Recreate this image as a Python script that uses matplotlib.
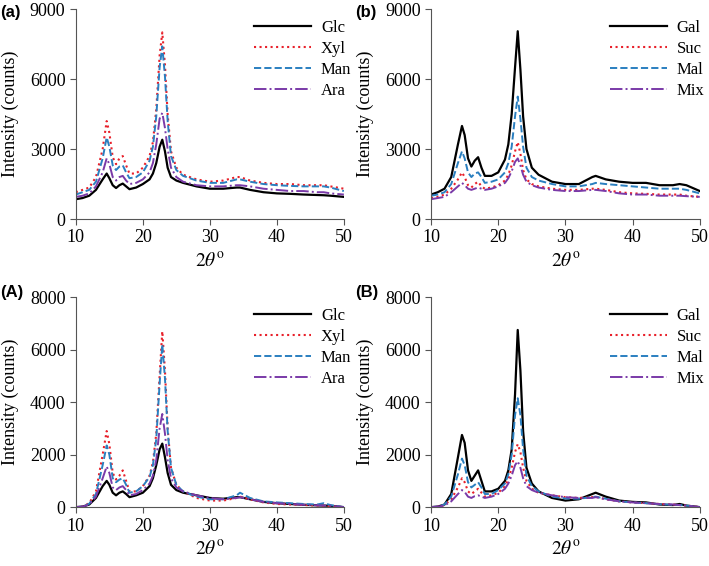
"""
    XRD patterns - four panels (a), (b), (A), (B)
"""
import matplotlib
matplotlib.use("Agg")
import matplotlib.pyplot as plt

# společná osa 2theta
two_theta = [10, 11, 12, 13, 14, 14.6, 15, 15.5, 16, 16.5, 17, 17.5, 18, 19, 20,
             21, 21.5, 22, 22.5, 22.9, 23.3, 23.7, 24.2, 25, 26, 28, 30, 32, 34,
             34.5, 36, 38, 40, 42, 44, 46, 47, 48, 50]

# panel (a)
a_glc = [850, 900, 1000, 1250, 1700, 1950, 1750, 1450, 1330, 1450, 1520, 1400, 1280, 1350, 1500,
         1700, 1950, 2400, 3100, 3400, 2900, 2200, 1800, 1650, 1550, 1400, 1300, 1300, 1350,
         1350, 1250, 1150, 1100, 1080, 1050, 1030, 1020, 1000, 950]
a_xyl = [1150, 1250, 1350, 1800, 3000, 4200, 3700, 2650, 2350, 2600, 2700, 2300, 1950, 1950, 2200,
         2700, 3300, 4700, 7000, 8000, 6600, 4500, 2900, 2200, 1900, 1700, 1600, 1650, 1800,
         1800, 1650, 1550, 1500, 1500, 1450, 1450, 1450, 1400, 1300]
a_man = [1050, 1150, 1250, 1600, 2600, 3500, 3100, 2300, 2100, 2250, 2300, 2000, 1750, 1800, 2000,
         2500, 3100, 4400, 6500, 7400, 6100, 4200, 2700, 2100, 1850, 1650, 1550, 1550, 1700,
         1700, 1600, 1500, 1450, 1420, 1400, 1400, 1400, 1350, 1200]
a_ara = [950, 1000, 1100, 1400, 2000, 2600, 2350, 1800, 1650, 1800, 1850, 1650, 1500, 1550, 1700,
         2000, 2400, 3200, 4300, 4550, 3900, 3000, 2200, 1800, 1600, 1450, 1400, 1400, 1450,
         1450, 1400, 1300, 1250, 1200, 1200, 1150, 1150, 1100, 1050]

# panel (b)
b_gal = [1050, 1150, 1300, 1800, 3200, 3990, 3600, 2600, 2250, 2500, 2650, 2200, 1850, 1850, 2000,
         2550, 3200, 4500, 6500, 8050, 6400, 4400, 3000, 2200, 1900, 1600, 1500, 1500, 1800,
         1850, 1700, 1600, 1550, 1550, 1450, 1450, 1500, 1450, 1200]
b_suc = [900, 950, 1050, 1300, 1700, 2000, 1800, 1450, 1350, 1500, 1600, 1400, 1300, 1350, 1450,
         1650, 1900, 2300, 2900, 3300, 2800, 2100, 1700, 1500, 1400, 1300, 1250, 1250, 1300,
         1300, 1250, 1150, 1100, 1080, 1050, 1050, 1050, 1000, 950]
b_mal = [1000, 1050, 1150, 1500, 2400, 2900, 2600, 2000, 1800, 1950, 2000, 1800, 1550, 1600, 1700,
         2000, 2400, 3100, 4400, 5250, 4300, 3100, 2200, 1800, 1650, 1500, 1400, 1400, 1500,
         1550, 1500, 1450, 1400, 1350, 1300, 1300, 1300, 1250, 1100]
b_mix = [850, 900, 950, 1150, 1400, 1550, 1450, 1300, 1250, 1300, 1350, 1300, 1250, 1300, 1400,
         1550, 1750, 2050, 2450, 2600, 2300, 1900, 1600, 1450, 1350, 1250, 1200, 1200, 1250,
         1250, 1200, 1100, 1050, 1050, 1000, 1000, 1000, 980, 950]

# panel (A)
A_glc = [0, 20, 100, 350, 800, 1000, 850, 550, 450, 550, 600, 500, 380, 450, 550,
         800, 1100, 1600, 2200, 2420, 1900, 1300, 850, 650, 550, 450, 350, 320, 380,
         380, 300, 200, 150, 120, 90, 70, 60, 50, 0]
A_xyl = [0, 20, 150, 600, 2000, 2900, 2400, 1300, 1050, 1200, 1400, 1000, 600, 600, 800,
         1200, 1700, 2800, 5000, 6700, 5200, 3000, 1500, 850, 600, 350, 250, 250, 350,
         400, 300, 180, 120, 100, 80, 60, 50, 40, 0]
A_man = [0, 20, 130, 500, 1600, 2350, 2000, 1100, 950, 1050, 1100, 850, 550, 600, 800,
         1150, 1600, 2600, 4700, 6200, 4900, 2900, 1500, 850, 600, 400, 300, 300, 450,
         550, 350, 220, 180, 150, 120, 100, 150, 80, 0]
A_ara = [0, 20, 100, 400, 1100, 1550, 1300, 750, 650, 750, 800, 650, 450, 500, 650,
         900, 1200, 1800, 3000, 3550, 2800, 1800, 1100, 750, 600, 450, 350, 300, 350,
         380, 300, 200, 150, 120, 90, 70, 60, 50, 0]

# panel (B)
B_gal = [0, 20, 100, 500, 1900, 2750, 2450, 1400, 1000, 1200, 1400, 1000, 600, 600, 700,
         1000, 1400, 2200, 4300, 6750, 5200, 2900, 1500, 900, 600, 350, 250, 300, 500,
         550, 400, 250, 200, 180, 100, 80, 120, 60, 0]
B_suc = [0, 20, 80, 300, 750, 1100, 950, 600, 500, 600, 700, 550, 400, 450, 550,
         800, 1050, 1500, 2100, 2400, 2100, 1500, 1000, 700, 550, 450, 380, 350, 380,
         400, 300, 220, 180, 150, 120, 100, 80, 60, 0]
B_mal = [0, 20, 100, 400, 1250, 1850, 1600, 950, 750, 850, 950, 750, 500, 500, 650,
         900, 1250, 2000, 3500, 4150, 3500, 2200, 1200, 800, 600, 400, 330, 320, 380,
         400, 320, 220, 180, 150, 110, 90, 80, 60, 0]
B_mix = [0, 20, 60, 220, 500, 650, 580, 400, 350, 420, 450, 400, 350, 400, 500,
         700, 900, 1200, 1600, 1750, 1500, 1100, 800, 650, 550, 450, 380, 350, 350,
         380, 300, 220, 180, 150, 120, 100, 80, 60, 0]

labels_left = ["Glc", "Xyl", "Man", "Ara"]
labels_right = ["Gal", "Suc", "Mal", "Mix"]
x_ticks = [10, 20, 30, 40, 50]
y_ticks_top = [0, 3000, 6000, 9000]
y_ticks_bottom = [0, 2000, 4000, 6000, 8000]

# styly čar
STYLES = [
    dict(color="black", linestyle="-", linewidth=1.6),
    dict(color="#e8202a", linestyle=":", linewidth=1.5),
    dict(color="#2a7fc0", linestyle="--", linewidth=1.4),
    dict(color="#7a3aa8", linestyle="-.", linewidth=1.4),
]

W, H = 709, 566


def draw_panel(fig, rect, series, labels, y_ticks, tag, tag_xy):
    """Vykreslí jeden panel"""
    ax = fig.add_axes(rect)
    for values, label, style in zip(series, labels, STYLES):
        ax.plot(two_theta, values, label=label, **style)

    ax.set_xlim(10, 50)
    ax.set_ylim(y_ticks[0], y_ticks[-1])
    ax.set_xticks(x_ticks)
    ax.set_yticks(y_ticks)
    ax.spines["top"].set_visible(False)
    ax.spines["right"].set_visible(False)
    ax.spines["left"].set_color("#555555")
    ax.spines["bottom"].set_color("#555555")
    ax.tick_params(direction="out", length=4, labelsize=13, color="#555555")
    ax.set_ylabel("Intensity (counts)", fontsize=13)
    ax.yaxis.set_label_coords(-0.212, 0.5)
    ax.set_xlabel(r"$2\theta^{\mathrm{o}}$", fontsize=14)
    ax.xaxis.set_label_coords(0.5, -0.16)
    ax.legend(loc="upper left", bbox_to_anchor=(0.61, 1.02), frameon=False,
              fontsize=12, handlelength=3.4, handletextpad=0.6, labelspacing=0.3)
    fig.text(tag_xy[0] / W, 1 - tag_xy[1] / H, tag, fontsize=12, fontweight="bold",
             family="Liberation Sans", ha="left", va="center")
    return ax


def main():
    """Hlavní funkce"""
    plt.rcParams["font.family"] = "Liberation Serif"
    plt.rcParams["mathtext.fontset"] = "stix"

    fig = plt.figure(figsize=(7.09, 5.66), dpi=100)

    draw_panel(fig, [0.107, 0.613, 0.378, 0.371], [a_glc, a_xyl, a_man, a_ara],
               labels_left, y_ticks_top, "(a)", (0, 13))
    draw_panel(fig, [0.608, 0.613, 0.379, 0.371], [b_gal, b_suc, b_mal, b_mix],
               labels_right, y_ticks_top, "(b)", (355, 13))
    draw_panel(fig, [0.107, 0.104, 0.378, 0.371], [A_glc, A_xyl, A_man, A_ara],
               labels_left, y_ticks_bottom, "(A)", (0, 292))
    draw_panel(fig, [0.608, 0.104, 0.379, 0.371], [B_gal, B_suc, B_mal, B_mix],
               labels_right, y_ticks_bottom, "(B)", (355, 292))

    fig.savefig("out.png", dpi=100)


if __name__ == "__main__":
    main()
